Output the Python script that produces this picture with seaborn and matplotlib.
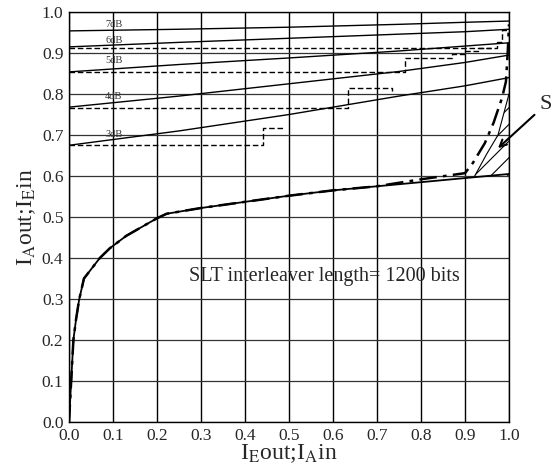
import numpy as np
import pandas as pd
import matplotlib.pyplot as plt
import seaborn as sns

# SNR curves of the inner decoder (solid)
snr_x = [0.0, 0.25, 0.5, 0.75, 0.9, 1.0]
snr_3db = [0.675, 0.71, 0.75, 0.795, 0.82, 0.84]
snr_4db = [0.768, 0.795, 0.825, 0.855, 0.877, 0.895]
snr_5db = [0.854, 0.872, 0.888, 0.905, 0.917, 0.925]
snr_6db = [0.915, 0.926, 0.936, 0.946, 0.952, 0.958]
snr_7db = [0.954, 0.958, 0.963, 0.970, 0.975, 0.978]
snr_names = ['3dB', '4dB', '5dB', '6dB', '7dB']
snr_label_y = [0.702, 0.793, 0.883, 0.930, 0.970]

# decoding trajectories (dashed staircases)
traj_3db_x = [0.0, 0.44, 0.44, 0.49]
traj_3db_y = [0.676, 0.676, 0.717, 0.717]
traj_4db_x = [0.0, 0.634, 0.634, 0.734, 0.734]
traj_4db_y = [0.766, 0.766, 0.815, 0.815, 0.808]
traj_5db_x = [0.0, 0.764, 0.764, 0.87, 0.87, 0.90, 0.90, 0.93, 0.93, 0.96]
traj_5db_y = [0.854, 0.854, 0.888, 0.888, 0.898, 0.898, 0.905, 0.905, 0.912, 0.912]
traj_6db_x = [0.0, 0.973, 0.973, 0.985, 0.985, 0.995]
traj_6db_y = [0.912, 0.912, 0.927, 0.927, 0.956, 0.956]

# outer decoder curve (solid) and the SLT curve (dash-dot)
dec_x = [0.0, 0.005, 0.01, 0.016, 0.023, 0.034, 0.07, 0.093, 0.13, 0.2, 0.222,
         0.3, 0.4, 0.5, 0.6, 0.7, 0.8, 0.9, 1.0]
dec_y = [0.0, 0.1, 0.2, 0.25, 0.298, 0.35, 0.40, 0.424, 0.454, 0.497, 0.508,
         0.522, 0.537, 0.552, 0.565, 0.575, 0.585, 0.595, 0.605]
slt_x = [0.0, 0.005, 0.01, 0.016, 0.023, 0.034, 0.07, 0.093, 0.13, 0.2, 0.222,
         0.3, 0.4, 0.5, 0.6, 0.7, 0.8, 0.9, 0.918, 0.945, 0.965, 0.984, 0.993, 0.997, 1.0]
slt_y = [0.0, 0.1, 0.2, 0.25, 0.298, 0.35, 0.40, 0.424, 0.454, 0.497, 0.508,
         0.522, 0.537, 0.552, 0.565, 0.575, 0.592, 0.607, 0.632, 0.68, 0.73, 0.79, 0.83, 0.90, 0.97]

# thin boundary of the hatched area S
s_x = [0.922, 0.95, 0.975, 1.0]
s_y = [0.6, 0.655, 0.70, 0.80]

ticks = np.round(np.arange(0, 1.01, 0.1), 1)

sns.set_style('white')
plt.rcParams['font.family'] = ['Liberation Serif', 'DejaVu Serif']
plt.rcParams['mathtext.fontset'] = 'stix'
plt.rcParams['hatch.linewidth'] = 0.8

fig = plt.figure(figsize=(5.55, 4.72), dpi=100)
ax = fig.add_axes([0.1243, 0.1059, 0.7928, 0.8686])

for yy in [snr_3db, snr_4db, snr_5db, snr_6db, snr_7db]:
    sns.lineplot(x=snr_x, y=yy, ax=ax, color='black', lw=1.0, sort=False, estimator=None)

for tx, ty in [(traj_3db_x, traj_3db_y), (traj_4db_x, traj_4db_y),
               (traj_5db_x, traj_5db_y), (traj_6db_x, traj_6db_y)]:
    sns.lineplot(x=tx, y=ty, ax=ax, color='black', lw=1.0, sort=False,
                 estimator=None, linestyle=(0, (4, 2)))

sns.lineplot(x=dec_x, y=dec_y, ax=ax, color='black', lw=1.3, sort=False, estimator=None)
sns.lineplot(x=slt_x, y=slt_y, ax=ax, color='black', lw=1.8, sort=False,
             estimator=None, linestyle=(0, (7, 2.5, 1.5, 2.5)))
sns.lineplot(x=s_x, y=s_y, ax=ax, color='black', lw=0.8, sort=False, estimator=None)
ax.fill_betweenx(s_y, s_x, 1.0, facecolor='none', edgecolor='black', hatch='//', linewidth=0)

for name, ly in zip(snr_names, snr_label_y):
    ax.text(0.082, ly, name, fontsize=7.5, color='#333333', va='center', ha='left')

ax.text(0.58, 0.354, 'SLT interleaver length= 1200 bits', fontsize=14.5,
        ha='center', va='center')
ax.annotate('S', xy=(0.975, 0.668), xytext=(1.07, 0.775), fontsize=16,
            ha='left', va='center', annotation_clip=False,
            arrowprops=dict(arrowstyle='->', color='black', lw=1.5,
                            shrinkA=2, shrinkB=0, mutation_scale=12))

ax.set_xlim(0, 1)
ax.set_ylim(0, 1)
ax.set_xticks(ticks)
ax.set_yticks(ticks)
ax.set_xticklabels([f'{t:.1f}' for t in ticks])
ax.set_yticklabels([f'{t:.1f}' for t in ticks])
ax.tick_params(length=0, labelsize=12.5, pad=4)
ax.xaxis.grid(True, color='black', lw=1.0)
ax.yaxis.grid(True, color='#333333', lw=0.9)
for sp in ax.spines.values():
    sp.set_color('black')
    sp.set_linewidth(1.0)
ax.set_xlabel(r'I$_\mathrm{E}$out;I$_\mathrm{A}$in', fontsize=17, labelpad=-1)
ax.set_ylabel(r'I$_\mathrm{A}$out;I$_\mathrm{E}$in', fontsize=17, labelpad=3)

plt.savefig('out.png', dpi=100)
